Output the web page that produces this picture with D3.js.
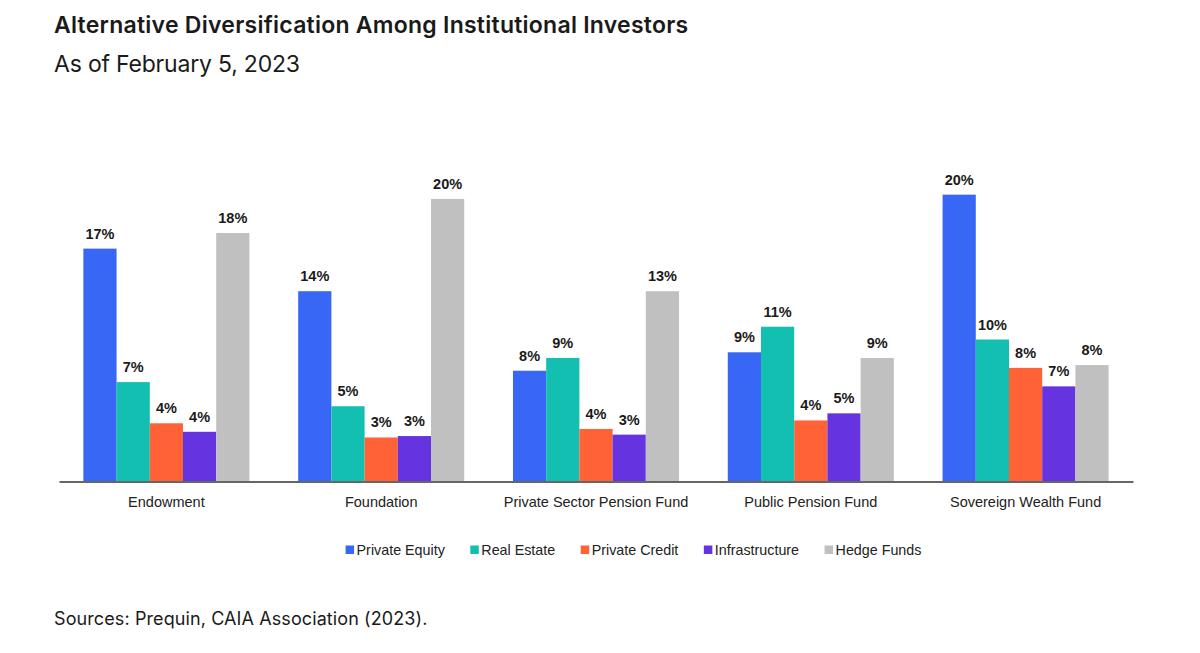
<!DOCTYPE html>
<html>
<head>
<meta charset="utf-8">
<script src="https://cdn.jsdelivr.net/npm/d3@7"></script>
<style>
  html, body { margin: 0; padding: 0; background: #ffffff; }
  svg { display: block; }
</style>
</head>
<body>
<svg id="chart" width="1200" height="653"></svg>
<script>
// ---- Data ----
const categories = ["Endowment", "Foundation", "Private Sector Pension Fund", "Public Pension Fund", "Sovereign Wealth Fund"];
const seriesNames = ["Private Equity", "Real Estate", "Private Credit", "Infrastructure", "Hedge Funds"];
const seriesColors = ["#3867F6", "#12BFB1", "#FF6236", "#6633E0", "#C0C0C0"];

// estimated values (bar heights)
const privateEquity = [16.4, 13.4, 7.8, 9.1, 20.2];
const realEstate    = [7.0, 5.3, 8.7, 10.9, 10.0];
const privateCredit = [4.1, 3.1, 3.7, 4.3, 8.0];
const infrastructure= [3.5, 3.2, 3.3, 4.8, 6.7];
const hedgeFunds    = [17.5, 19.9, 13.4, 8.7, 8.2];

// printed labels
const privateEquityLabels  = ["17%", "14%", "8%", "9%", "20%"];
const realEstateLabels     = ["7%", "5%", "9%", "11%", "10%"];
const privateCreditLabels  = ["4%", "3%", "4%", "4%", "8%"];
const infrastructureLabels = ["4%", "3%", "3%", "5%", "7%"];
const hedgeFundsLabels     = ["18%", "20%", "13%", "9%", "8%"];

const seriesValues = [privateEquity, realEstate, privateCredit, infrastructure, hedgeFunds];
const seriesLabels = [privateEquityLabels, realEstateLabels, privateCreditLabels, infrastructureLabels, hedgeFundsLabels];

// ---- Layout ----
const svg = d3.select("#chart");
const chartFont = "'Liberation Sans', Arial, sans-serif";
const headFont = "Inter, 'Open Sans', sans-serif";

const baseY = 481.5;
const x0 = d3.scaleBand().domain(categories).range([59, 1133]).paddingInner(0.227).paddingOuter(0.1135);
const x1 = d3.scaleBand().domain(seriesNames).range([0, x0.bandwidth()]).padding(0);
const y = d3.scaleLinear().domain([0, 21]).range([baseY, baseY - 21 * 14.2]);

// Title
svg.append("text").attr("x", 54).attr("y", 33)
  .attr("font-family", headFont).attr("font-weight", 600).attr("font-size", 23)
  .attr("fill", "#1a1a1a").attr("letter-spacing", 0.25)
  .text("Alternative Diversification Among Institutional Investors");
svg.append("text").attr("x", 54).attr("y", 72)
  .attr("font-family", headFont).attr("font-weight", 400).attr("font-size", 23)
  .attr("fill", "#1a1a1a").attr("letter-spacing", -0.2)
  .text("As of February 5, 2023");

// Bars
const rows = [];
categories.forEach((c, ci) => {
  seriesNames.forEach((s, si) => {
    rows.push({ cat: c, ser: s, si, v: seriesValues[si][ci], label: seriesLabels[si][ci] });
  });
});

const g = svg.append("g");
g.selectAll("rect.bar").data(rows).join("rect")
  .attr("class", "bar")
  .attr("x", d => x0(d.cat) + x1(d.ser))
  .attr("y", d => y(d.v))
  .attr("width", x1.bandwidth())
  .attr("height", d => y(0) - y(d.v))
  .attr("fill", d => seriesColors[d.si]);

g.selectAll("text.val").data(rows).join("text")
  .attr("class", "val")
  .attr("x", d => x0(d.cat) + x1(d.ser) + x1.bandwidth() / 2)
  .attr("y", d => y(d.v) - 10)
  .attr("text-anchor", "middle")
  .attr("font-family", chartFont).attr("font-weight", "bold").attr("font-size", 14.5)
  .attr("fill", "#1a1a1a")
  .text(d => d.label);

// Axis
const axis = svg.append("g").attr("transform", `translate(0,${baseY})`)
  .call(d3.axisBottom(x0).tickSize(0).tickPadding(15.5));
axis.select(".domain").attr("stroke", "#666").attr("stroke-width", 2);
axis.selectAll(".tick text").attr("font-family", chartFont).attr("font-size", 14.5).attr("fill", "#222");

// Legend
const legend = svg.append("g");
const items = legend.selectAll("g.item").data(seriesNames).join("g").attr("class", "item");
items.append("rect").attr("width", 8.5).attr("height", 8.5).attr("y", -9.5)
  .attr("fill", (d, i) => seriesColors[i]);
items.append("text").attr("x", 11).attr("y", 0)
  .attr("font-family", chartFont).attr("font-size", 14.3).attr("fill", "#222")
  .text(d => d);
let cursor = 0;
const gap = 25.5;
items.each(function () {
  const w = d3.select(this).select("text").node().getComputedTextLength();
  this.__x = cursor;
  cursor += 11 + w + gap;
});
const total = cursor - gap;
const legendStart = 633.5 - total / 2;
items.attr("transform", function () { return `translate(${legendStart + this.__x},555)`; });

// Source
svg.append("text").attr("x", 54).attr("y", 625)
  .attr("font-family", headFont).attr("font-weight", 400).attr("font-size", 18)
  .attr("fill", "#1a1a1a").attr("letter-spacing", 0.1)
  .text("Sources: Prequin, CAIA Association (2023).");
</script>
</body>
</html>
